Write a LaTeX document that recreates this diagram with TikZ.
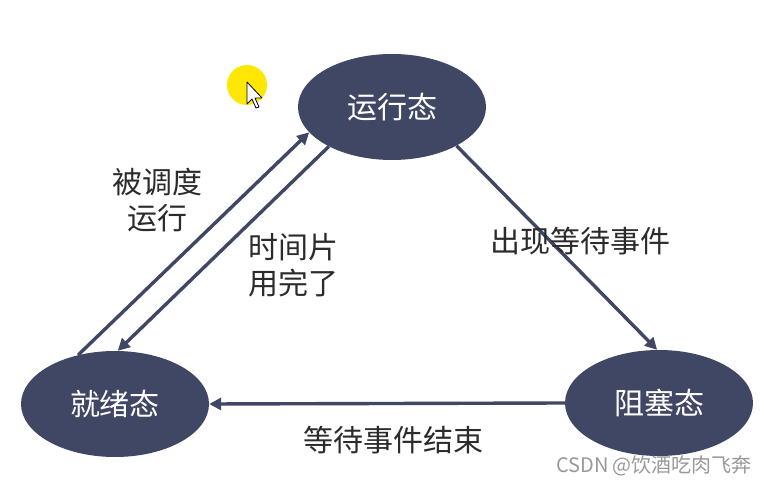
\documentclass[tikz,border=0pt]{standalone}
\usepackage{fontspec}
\setmainfont{Noto Sans CJK SC}
\usetikzlibrary{shapes.geometric,arrows.meta}
\definecolor{statefill}{HTML}{3F4764}
\definecolor{labeltext}{HTML}{2B2B2B}
\tikzset{
  state/.style={ellipse, fill=statefill, text=white, minimum width=188pt,
    minimum height=106pt, inner sep=0pt, font=\fontsize{30}{33}\selectfont},
  edge/.style={draw=statefill, line width=3.4pt,
    -{Triangle[width=12pt,length=12pt]}},
  lbl/.style={text=labeltext, align=center, font=\fontsize{30}{36}\selectfont}
}
\begin{document}
\begin{tikzpicture}[x=1pt,y=-1pt]
\useasboundingbox[fill=white] (0,0) rectangle (764,486);
% cursor highlight
\fill[yellow!90!orange] (247,85) circle[radius=20];
\draw[fill=white, line width=0.8pt, line join=round] (247,82)--(247,104)--(252,99)--(256,108)--(259,107)--(255,98)--(262,98)--cycle;
% states
\node[state] (run) at (392,107) {运行态};
\node[state] (ready) at (115,404) {就绪态};
\node[state] (block) at (659,403) {阻塞态};
% transitions
\draw[edge] (ready.127) -- (run.197);
\draw[edge] (run.212) -- (ready.87);
\draw[edge] (run.329) -- (block.92);
\draw[edge] (block.west) -- (ready.east);
% labels
\node[lbl] (sched) at (157,200) {被调度\\运行};
\node[lbl] (slice) at (293,265) {时间片\\用完了};
\node[lbl] (wait) at (580,241) {出现等待事件};
\node[lbl] (done) at (393,440) {等待事件结束};
\node[text=gray!80, font=\fontsize{20}{22}\selectfont] (mark) at (654,466) {CSDN @饮酒吃肉飞奔};
\end{tikzpicture}
\end{document}
